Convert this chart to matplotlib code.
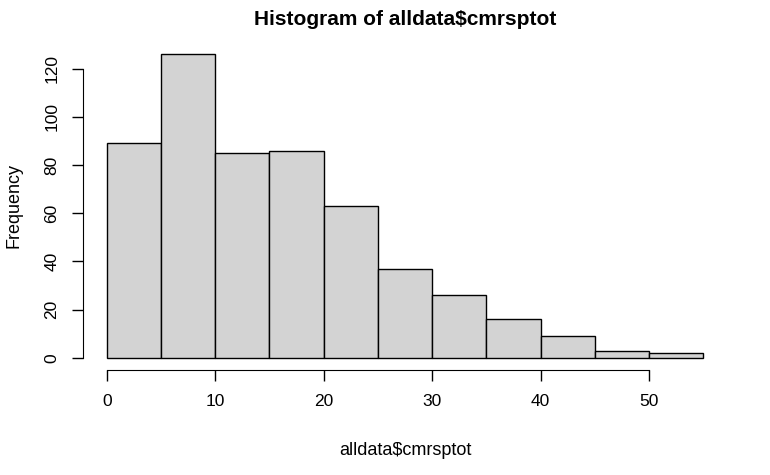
import numpy as np
import matplotlib
matplotlib.use('Agg')
import matplotlib.pyplot as plt

plt.rcParams['font.family'] = ['Liberation Sans', 'DejaVu Sans']

# Histogram bins and counts
bin_edges = [0, 5, 10, 15, 20, 25, 30, 35, 40, 45, 50, 55]
counts = [89, 126, 85, 86, 63, 37, 26, 16, 9, 3, 2]
x_ticks = [0, 10, 20, 30, 40, 50]
y_ticks = [0, 20, 40, 60, 80, 100, 120]

fig = plt.figure(figsize=(7.7, 4.75), dpi=100)
ax = fig.add_axes([83 / 770, 1 - 370 / 475, (727 - 83) / 770, (370 - 42) / 475])

edges = np.array(bin_edges)
ax.bar(edges[:-1], counts, width=np.diff(edges), align='edge',
       color='#d3d3d3', edgecolor='black', linewidth=1.0)

# R style axis ranges (4% padding)
xr = edges[-1] - edges[0]
ax.set_xlim(edges[0] - 0.04 * xr, edges[-1] + 0.04 * xr)
yr = max(counts)
ax.set_ylim(-0.04 * yr, yr * 1.04)

ax.spines['top'].set_visible(False)
ax.spines['right'].set_visible(False)
ax.spines['left'].set_bounds(y_ticks[0], y_ticks[-1])
ax.spines['bottom'].set_bounds(x_ticks[0], x_ticks[-1])

ax.set_xticks(x_ticks)
ax.set_yticks(y_ticks)
ax.tick_params(axis='both', length=8, width=1, labelsize=12.5, pad=9)
for lab in ax.get_yticklabels():
    lab.set_rotation(90)
    lab.set_va('center')

ax.set_title('Histogram of alldata$cmrsptot', fontsize=15, fontweight='bold', pad=12)
ax.set_xlabel('alldata$cmrsptot', fontsize=13, labelpad=24)
ax.set_ylabel('Frequency', fontsize=13, labelpad=16)

fig.savefig('out.png', dpi=100)
